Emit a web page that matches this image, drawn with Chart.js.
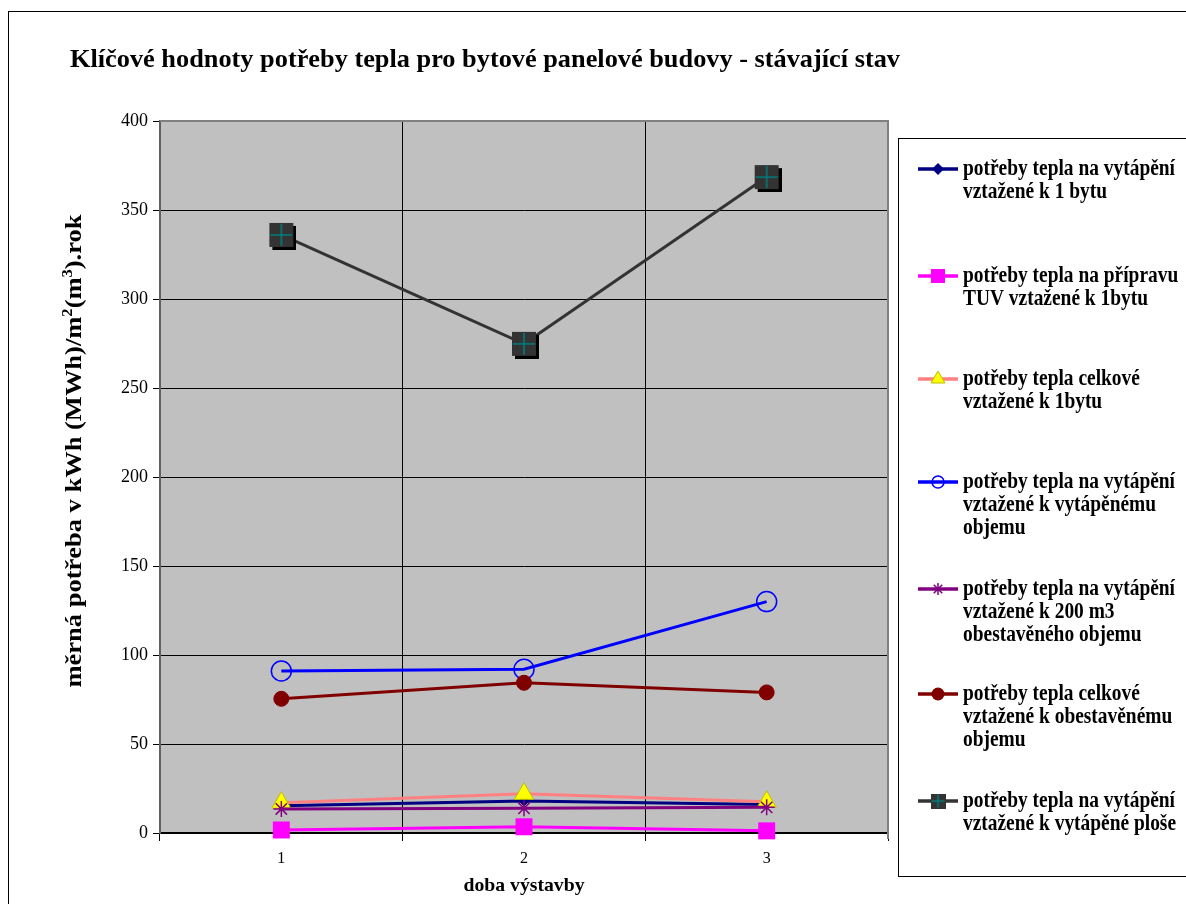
<!DOCTYPE html>
<html>
<head>
<meta charset="utf-8">
<script src="https://cdn.jsdelivr.net/npm/chart.js@4.4.1/dist/chart.umd.min.js"></script>
<style>
  html, body { margin: 0; padding: 0; background: #ffffff; }
  #wrap { width: 1186px; height: 904px; position: relative; }
</style>
</head>
<body>
<div id="wrap"><canvas id="c" width="1186" height="904"></canvas></div>
<script>
// ---- data ----
const categories = ['1', '2', '3'];
const yTickMin = 0;
const yTickMax = 400;
const yTickStep = 50;

const vytapeniNaByt = [15.3, 18.0, 16.0];
const tuvNaByt = [1.7, 3.5, 1.2];
const celkemNaByt = [17.0, 22.0, 17.5];
const vytapeniNaVytapenyObjem = [91.0, 92.0, 130.0];
const vytapeniNa200m3 = [13.5, 13.9, 14.4];
const celkemNaObestavenyObjem = [75.4, 84.4, 79.0];
const vytapeniNaPlochu = [336.0, 274.8, 368.5];

const legendLines = [
  ['potřeby tepla na vytápění', 'vztažené k 1 bytu'],
  ['potřeby tepla na přípravu', 'TUV vztažené k 1bytu'],
  ['potřeby tepla celkové', 'vztažené k 1bytu'],
  ['potřeby tepla na vytápění', 'vztažené k vytápěnému', 'objemu'],
  ['potřeby tepla na vytápění', 'vztažené k 200 m3', 'obestavěného objemu'],
  ['potřeby tepla celkové', 'vztažené k obestavěnému', 'objemu'],
  ['potřeby tepla na vytápění', 'vztažené k vytápěné ploše']
];

const chartTitle = 'Klíčové hodnoty potřeby tepla pro bytové panelové budovy - stávající stav';
const xTitle = 'doba výstavby';

const SERIF = '"Liberation Serif", "Times New Roman", serif';

// ---- marker for the heated-area series: dark square with teal cross and drop shadow ----
function squareCrossMarker(side, shadow) {
  const pad = shadow ? 3 : 0;
  const c = document.createElement('canvas');
  c.width = side + pad * 2;
  c.height = side + pad * 2;
  const g = c.getContext('2d');
  if (shadow) {
    g.fillStyle = '#000000';
    g.fillRect(pad + 3, pad + 3, side, side);
  }
  g.fillStyle = '#333333';
  g.fillRect(pad, pad, side, side);
  g.strokeStyle = '#008080';
  g.lineWidth = 1.5;
  const cx = pad + side / 2, cy = pad + side / 2, h = side / 2 - 1;
  g.beginPath();
  g.moveTo(cx - h, cy); g.lineTo(cx + h, cy);
  g.moveTo(cx, cy - h); g.lineTo(cx, cy + h);
  g.stroke();
  return c;
}
const bigSquare = squareCrossMarker(24, true);

// ---- series styles ----
const seriesData = [vytapeniNaByt, tuvNaByt, celkemNaByt, vytapeniNaVytapenyObjem,
                    vytapeniNa200m3, celkemNaObestavenyObjem, vytapeniNaPlochu];
const styles = [
  { line: '#000080', style: 'rectRot',  r: 5,    fill: '#000080', stroke: '#000080', bw: 1 },
  { line: '#FF00FF', style: 'rect',     r: 12,   fill: '#FF00FF', stroke: '#FF00FF', bw: 0 },
  { line: '#FF8080', style: 'triangle', r: 11,   fill: '#FFFF00', stroke: '#BFBF00', bw: 1 },
  { line: '#0000FF', style: 'circle',   r: 10,   fill: 'rgba(0,0,0,0)', stroke: '#0000FF', bw: 1.5 },
  { line: '#800080', style: 'star',     r: 8,    fill: '#800080', stroke: '#800080', bw: 1.5 },
  { line: '#800000', style: 'circle',   r: 7.5,  fill: '#800000', stroke: '#800000', bw: 1 },
  { line: '#333333', style: bigSquare,  r: 12,   fill: '#333333', stroke: '#333333', bw: 1 }
];

const datasets = seriesData.map((d, i) => ({
  label: legendLines[i].join(' '),
  data: d,
  borderColor: styles[i].line,
  backgroundColor: styles[i].line,
  borderWidth: 3,
  tension: 0,
  clip: false,
  pointStyle: styles[i].style,
  pointRadius: styles[i].r,
  pointHoverRadius: styles[i].r,
  pointBackgroundColor: styles[i].fill,
  pointBorderColor: styles[i].stroke,
  pointBorderWidth: styles[i].bw,
  order: seriesData.length - i
}));

// ---- text helpers ----
function drawFitted(ctx, text, x, y, size, targetW, align) {
  ctx.save();
  ctx.font = 'bold ' + size + 'px ' + SERIF;
  const w = ctx.measureText(text).width;
  const sx = targetW ? targetW / w : 1;
  ctx.translate(x, y);
  ctx.scale(sx, 1);
  ctx.textBaseline = 'middle';
  ctx.textAlign = align || 'left';
  ctx.fillStyle = '#000000';
  ctx.fillText(text, 0, 0);
  ctx.restore();
}

// legend marker drawn with the same shapes as the data points
function legendMarker(ctx, i, x, y) {
  const s = styles[i];
  ctx.save();
  ctx.fillStyle = s.fill;
  ctx.strokeStyle = s.stroke;
  ctx.lineWidth = s.bw || 1;
  ctx.beginPath();
  if (i === 0) {
    const r = 6;
    ctx.moveTo(x, y - r); ctx.lineTo(x + r, y); ctx.lineTo(x, y + r); ctx.lineTo(x - r, y); ctx.closePath();
    ctx.fill();
  } else if (i === 1) {
    ctx.fillRect(x - 7, y - 7, 14, 14);
  } else if (i === 2) {
    const r = 8;
    ctx.moveTo(x, y - r); ctx.lineTo(x + r * 0.866, y + r / 2); ctx.lineTo(x - r * 0.866, y + r / 2); ctx.closePath();
    ctx.fill(); ctx.stroke();
  } else if (i === 3) {
    ctx.arc(x, y, 6, 0, Math.PI * 2);
    ctx.stroke();
  } else if (i === 4) {
    const r = 6;
    ctx.moveTo(x - r, y); ctx.lineTo(x + r, y);
    ctx.moveTo(x, y - r); ctx.lineTo(x, y + r);
    const d = r * 0.707;
    ctx.moveTo(x - d, y - d); ctx.lineTo(x + d, y + d);
    ctx.moveTo(x - d, y + d); ctx.lineTo(x + d, y - d);
    ctx.stroke();
  } else if (i === 5) {
    ctx.arc(x, y, 6.5, 0, Math.PI * 2);
    ctx.fill();
  } else if (i === 6) {
    const m = squareCrossMarker(15, false);
    ctx.drawImage(m, x - m.width / 2, y - m.height / 2);
  }
  ctx.restore();
}

const decor = {
  id: 'decor',
  beforeDraw(chart) {
    const { ctx, chartArea: a } = chart;
    ctx.save();
    ctx.fillStyle = '#ffffff';
    ctx.fillRect(0, 0, chart.width, chart.height);
    ctx.fillStyle = '#C0C0C0';
    ctx.fillRect(a.left, a.top, a.right - a.left, a.bottom - a.top);
    ctx.restore();
  },
  afterDraw(chart) {
    const { ctx, chartArea: a } = chart;
    ctx.save();
    // plot area frame on top and right
    ctx.strokeStyle = '#808080';
    ctx.lineWidth = 2;
    ctx.beginPath();
    ctx.moveTo(a.left, a.top);
    ctx.lineTo(a.right, a.top);
    ctx.lineTo(a.right, a.bottom + 6);
    ctx.stroke();
    // outer frame
    ctx.strokeStyle = '#000000';
    ctx.lineWidth = 1;
    ctx.strokeRect(8.5, 11.5, 1200, 920);
    // legend frame
    ctx.strokeRect(898.5, 138.5, 300, 738);
    ctx.restore();

    // title
    drawFitted(ctx, chartTitle, 70, 61, 25, 830, 'left');

    // x axis title
    drawFitted(ctx, xTitle, (a.left + a.right) / 2, 886, 19, 121, 'center');

    // y axis title with superscripts, rotated
    ctx.save();
    ctx.translate(73, 451);
    ctx.rotate(-Math.PI / 2);
    const size = 24, supSize = 15;
    const parts = [
      ['měrná potřeba v kWh (MWh)/m', false],
      ['2', true],
      ['(m', false],
      ['3', true],
      [').rok', false]
    ];
    let total = 0;
    parts.forEach(p => {
      ctx.font = 'bold ' + (p[1] ? supSize : size) + 'px ' + SERIF;
      total += ctx.measureText(p[0]).width;
    });
    const sx = 473 / total;
    ctx.scale(sx, 1);
    let cx = -total / 2;
    ctx.fillStyle = '#000000';
    ctx.textBaseline = 'alphabetic';
    ctx.textAlign = 'left';
    parts.forEach(p => {
      ctx.font = 'bold ' + (p[1] ? supSize : size) + 'px ' + SERIF;
      ctx.fillText(p[0], cx, p[1] ? -1 : 8);
      cx += ctx.measureText(p[0]).width;
    });
    ctx.restore();

    // legend entries
    const entryY = [169, 276, 379, 482, 589, 694, 801];
    const lf = 'bold 23px ' + SERIF;
    ctx.save();
    ctx.font = lf;
    const refW = ctx.measureText('potřeby tepla na vytápění').width;
    ctx.restore();
    const lsx = 212 / refW;
    legendLines.forEach((lines, i) => {
      const y = entryY[i];
      ctx.save();
      ctx.strokeStyle = styles[i].line;
      ctx.lineWidth = 3.5;
      ctx.beginPath();
      ctx.moveTo(918, y);
      ctx.lineTo(958, y);
      ctx.stroke();
      ctx.restore();
      legendMarker(ctx, i, 938, y);
      lines.forEach((t, k) => {
        ctx.save();
        ctx.font = lf;
        ctx.translate(963, y + k * 23);
        ctx.scale(lsx, 1);
        ctx.textBaseline = 'middle';
        ctx.fillStyle = '#000000';
        ctx.fillText(t, 0, 0);
        ctx.restore();
      });
    });
  }
};

new Chart(document.getElementById('c'), {
  type: 'line',
  data: { labels: categories, datasets },
  options: {
    responsive: false,
    animation: false,
    devicePixelRatio: 1,
    events: [],
    layout: { padding: { left: 0, top: 121, right: 298, bottom: 0 } },
    plugins: { legend: { display: false }, title: { display: false }, tooltip: { enabled: false } },
    scales: {
      x: {
        type: 'category',
        offset: true,
        grid: { offset: true, color: '#000000', lineWidth: 1, drawTicks: true, tickLength: 8, tickColor: '#000000' },
        border: { color: '#000000', width: 2 },
        ticks: { color: '#000000', font: { family: SERIF, size: 16 }, padding: 8 },
        afterFit(s) { s.height = 71; }
      },
      y: {
        min: yTickMin,
        max: yTickMax,
        ticks: { stepSize: yTickStep, color: '#000000', font: { family: SERIF, size: 18 }, padding: 5 },
        grid: { color: '#000000', lineWidth: 1, drawTicks: true, tickLength: 7, tickColor: '#000000' },
        border: { color: '#606060', width: 2 },
        afterFit(s) { s.width = 160; }
      }
    }
  },
  plugins: [decor]
});
</script>
</body>
</html>
